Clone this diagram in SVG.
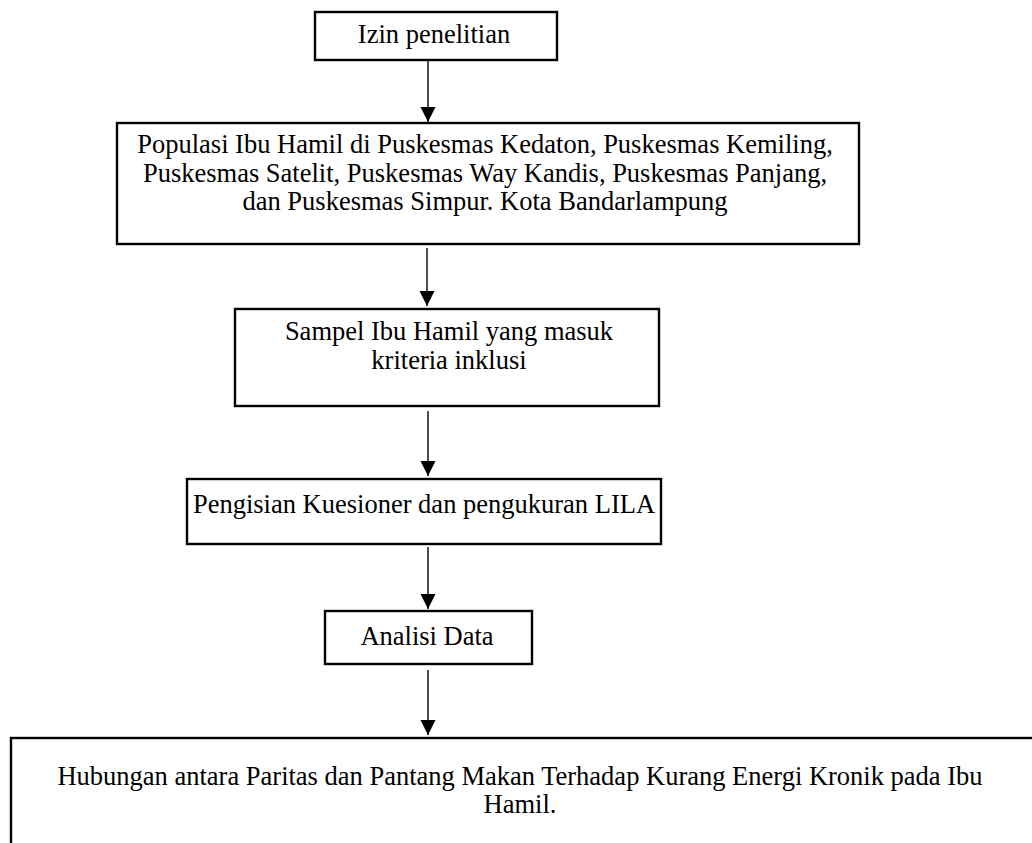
<svg xmlns="http://www.w3.org/2000/svg" width="1032" height="843" viewBox="0 0 1032 843">
<style>
.box{fill:#fff;stroke:#000;stroke-width:2.4}
.t{font-family:"Liberation Serif","Times New Roman",serif;font-size:26.5px;fill:#000;text-anchor:middle}
.c{stroke:#000;stroke-width:1.4;fill:none}
</style>
<defs>
<marker id="ah" markerUnits="userSpaceOnUse" markerWidth="16" markerHeight="16" refX="15" refY="7.5" orient="auto" viewBox="0 0 16 16">
<path d="M0,0 L15,7.5 L0,15 z" fill="#000"/>
</marker>
</defs>
<rect width="1032" height="843" fill="#fff"/>
<g id="n1">
<rect class="box" x="315" y="12" width="242" height="48"/>
<text class="t" x="434" y="43">Izin penelitian</text>
</g>
<g id="n2">
<rect class="box" x="117" y="123" width="742" height="121"/>
<text class="t" x="485" y="153">Populasi Ibu Hamil di Puskesmas Kedaton, Puskesmas Kemiling,</text>
<text class="t" x="485" y="182">Puskesmas Satelit, Puskesmas Way Kandis, Puskesmas Panjang,</text>
<text class="t" x="485" y="210">dan Puskesmas Simpur. Kota Bandarlampung</text>
</g>
<g id="n3">
<rect class="box" x="235" y="309" width="424" height="97"/>
<text class="t" x="449" y="340">Sampel Ibu Hamil yang masuk</text>
<text class="t" x="449" y="369">kriteria inklusi</text>
</g>
<g id="n4">
<rect class="box" x="187" y="479" width="474" height="65"/>
<text class="t" x="424" y="513">Pengisian Kuesioner dan pengukuran LILA</text>
</g>
<g id="n5">
<rect class="box" x="325" y="611" width="207" height="53"/>
<text class="t" x="427" y="645">Analisi Data</text>
</g>
<g id="n6">
<rect class="box" x="11" y="738" width="1040" height="130"/>
<text class="t" x="520" y="785">Hubungan antara Paritas dan Pantang Makan Terhadap Kurang Energi Kronik pada Ibu</text>
<text class="t" x="520" y="813">Hamil.</text>
</g>
<g id="connectors">
<line class="c" x1="428" y1="61" x2="428" y2="122" marker-end="url(#ah)"/>
<line class="c" x1="427" y1="248" x2="427" y2="306" marker-end="url(#ah)"/>
<line class="c" x1="428" y1="411" x2="428" y2="476" marker-end="url(#ah)"/>
<line class="c" x1="428" y1="547" x2="428" y2="609" marker-end="url(#ah)"/>
<line class="c" x1="428" y1="670" x2="428" y2="735" marker-end="url(#ah)"/>
</g>
</svg>
